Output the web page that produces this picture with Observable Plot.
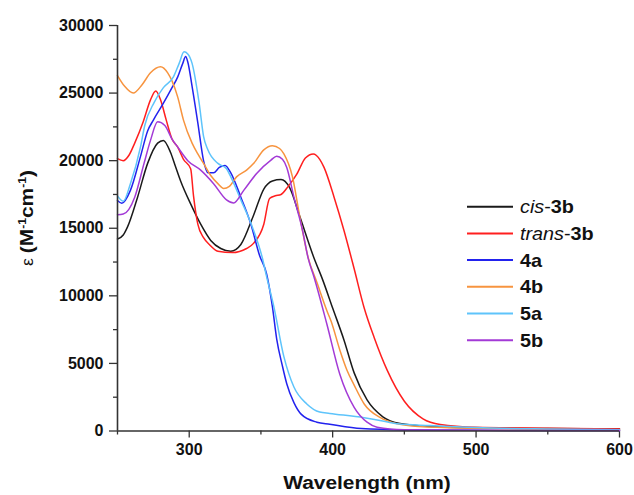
<!DOCTYPE html>
<html>
<head>
<meta charset="utf-8">
<script src="https://cdn.jsdelivr.net/npm/d3@7"></script>
<script src="https://cdn.jsdelivr.net/npm/@observablehq/plot@0.6"></script>
<style>
  html, body { margin: 0; padding: 0; background: #fff; }
  #chart { width: 634px; height: 495px; }
</style>
</head>
<body>
<div id="chart"></div>
<script>
// ---- Data ----
const seriesNames = ["cis-3b", "trans-3b", "4a", "4b", "5a", "5b"];
const seriesColors = ["#1a1a1a", "#ff1f1f", "#2222ee", "#f7943f", "#5ec4fb", "#a33ad6"];

const cis3b_nm  = [250, 254, 257, 264, 271, 278, 282, 287, 290, 294, 301, 308, 315, 322, 329, 336, 345, 352, 358, 364, 370, 377, 387, 393, 400, 408, 415, 424, 435, 447, 468, 500, 550, 600];
const cis3b_eps = [14200, 14500, 15100, 17300, 19800, 21300, 21500, 20600, 19700, 18500, 16800, 15300, 14100, 13500, 13300, 13800, 16000, 17900, 18500, 18600, 18000, 15900, 12800, 11200, 9100, 6700, 4300, 2300, 1050, 550, 330, 230, 180, 150];

const trans3b_nm  = [250, 254, 258, 262, 268, 273, 276.7, 280, 284, 288, 292, 296, 301, 303, 306, 310, 314, 320, 330, 340, 345, 352, 356, 360, 364, 369, 375, 381, 386.5, 391, 394, 401, 408, 415, 422, 429, 438, 450, 463, 475, 500, 550, 600];
const trans3b_eps = [20150, 20000, 20400, 21300, 22900, 24500, 25150, 24500, 23000, 21600, 21000, 20100, 19400, 17400, 15300, 14300, 13800, 13300, 13200, 13500, 13900, 15300, 17200, 17400, 17500, 18100, 19000, 20200, 20500, 20100, 19500, 17300, 14800, 12000, 9100, 6900, 4500, 2200, 900, 480, 270, 200, 150];

const a4_nm  = [250, 253, 259, 266, 271, 275, 282, 288, 292, 295.5, 297.5, 299, 302, 306, 310, 313, 317, 321, 325, 329, 336, 343, 349, 354, 358, 361, 365, 368, 373, 378, 389, 398, 420, 450, 500, 600];
const a4_eps = [17050, 16850, 17800, 20300, 22200, 23000, 24250, 25400, 26200, 27200, 27700, 27300, 25500, 22800, 20000, 19100, 19100, 19500, 19650, 19100, 17300, 15300, 13000, 11600, 9200, 6800, 4800, 3500, 2100, 1250, 650, 500, 180, 80, 50, 30];

const b4_nm  = [250, 255, 261, 267, 273, 280, 285, 288, 292, 296, 302, 306, 310, 315, 320, 324, 328, 333, 340, 345, 352, 358, 363, 366, 372, 377, 383, 389, 396, 399, 405, 410, 415, 422, 433, 445, 460, 500, 550, 600];
const b4_eps = [26300, 25500, 25000, 25600, 26500, 26950, 26500, 25900, 24700, 23000, 21300, 20500, 19800, 18900, 18300, 17950, 18100, 18800, 19300, 19800, 20800, 21100, 20900, 20500, 18800, 15900, 12800, 11000, 8900, 8100, 6000, 4500, 3400, 2000, 1000, 530, 330, 200, 120, 80];

const a5_nm  = [250, 254, 259, 266, 269, 275.5, 282, 289, 293, 296.4, 299, 302, 307, 310, 313, 320, 326, 329, 336, 344, 351, 354, 359, 366, 373, 382, 391, 398, 422, 433, 445, 468, 500, 550, 600];
const a5_eps = [17400, 17000, 18300, 21000, 22600, 24300, 25400, 26200, 27200, 28050, 27900, 27200, 24200, 21800, 20800, 19800, 19400, 18800, 17100, 15100, 12800, 11400, 9200, 5500, 3250, 2000, 1400, 1300, 980, 780, 530, 400, 250, 150, 100];

const b5_nm  = [250, 254, 262, 268.5, 273, 278, 283, 288, 292, 299, 308, 317, 326, 331, 338, 347, 357, 361, 365, 368, 373, 379, 383, 387, 396, 405, 415, 424, 431, 450, 500, 600];
const b5_eps = [16000, 16050, 17300, 19800, 21500, 22870, 22600, 21600, 21000, 20000, 19300, 18300, 17100, 16870, 17800, 19050, 20040, 20330, 20100, 19500, 17300, 14850, 12750, 11400, 7900, 4200, 1750, 650, 280, 100, 50, 30];

const xTicksMajor = [300, 400, 500, 600];
const xTicksMinor = [250, 350, 450, 550];
const yTicksMajor = [0, 5000, 10000, 15000, 20000, 25000, 30000];
const yTicksMinor = [2500, 7500, 12500, 17500, 22500, 27500];

// ---- Build table ----
const seriesArrays = [
  [cis3b_nm, cis3b_eps], [trans3b_nm, trans3b_eps], [a4_nm, a4_eps],
  [b4_nm, b4_eps], [a5_nm, a5_eps], [b5_nm, b5_eps]
];
const data = [];
seriesArrays.forEach(([xs, ys], i) => {
  xs.forEach((x, j) => data.push({series: seriesNames[i], nm: x, eps: ys[j]}));
});

const font = "'Liberation Sans', Arial, sans-serif";
const axisColor = "#333";

const plot = Plot.plot({
  width: 634,
  height: 495,
  marginLeft: 117,
  marginRight: 15,
  marginTop: 25,
  marginBottom: 64.5,
  style: {fontFamily: font, color: "#111", background: "#fff", overflow: "visible"},
  x: {domain: [250, 600]},
  y: {domain: [0, 30000]},
  color: {domain: seriesNames, range: seriesColors},
  marks: [
    Plot.axisX({ticks: xTicksMajor, tickSize: 7, tickPadding: 6, fontSize: 16, fontWeight: "bold", stroke: axisColor, strokeWidth: 1.3, label: null, tickFormat: d => String(d)}),
    Plot.axisX({ticks: xTicksMinor, tickSize: 4, text: null, stroke: axisColor, strokeWidth: 1.3, label: null}),
    Plot.axisY({ticks: yTicksMajor, tickSize: 8, tickPadding: 6, fontSize: 16, fontWeight: "bold", stroke: axisColor, strokeWidth: 1.3, label: null, tickFormat: d => String(d)}),
    Plot.axisY({ticks: yTicksMinor, tickSize: 4, text: null, stroke: axisColor, strokeWidth: 1.3, label: null}),
    Plot.line(data, {x: "nm", y: "eps", z: "series", stroke: "series", strokeWidth: 1.5, curve: "monotone-x"}),
    Plot.ruleX([250], {stroke: axisColor, strokeWidth: 1.6}),
    Plot.ruleY([0], {stroke: axisColor, strokeWidth: 1.6})
  ]
});

document.getElementById("chart").appendChild(plot);

// ---- Axis titles ----
const svg = d3.select(plot);
svg.append("text")
  .attr("transform", "translate(367,489) scale(1.1,1)")
  .attr("text-anchor", "middle")
  .attr("font-family", font).attr("font-size", 19).attr("font-weight", "bold").attr("fill", "#111")
  .text("Wavelength (nm)");

const yt = svg.append("text")
  .attr("transform", "translate(33,218) rotate(-90) scale(1.1,1)")
  .attr("text-anchor", "middle")
  .attr("font-family", font).attr("font-size", 19).attr("font-weight", "bold").attr("fill", "#111");
yt.append("tspan").attr("font-weight", "normal").attr("font-size", 16).text("ε ");
yt.append("tspan").text("(M");
yt.append("tspan").attr("font-size", 11).attr("dy", -7).text("-1");
yt.append("tspan").attr("dy", 7).text("cm");
yt.append("tspan").attr("font-size", 11).attr("dy", -7).text("-1");
yt.append("tspan").attr("dy", 7).text(")");

// ---- Legend ----
const legendItems = [
  {ital: "cis", rest: "3b"}, {ital: "trans", rest: "3b"},
  {ital: null, rest: "4a"}, {ital: null, rest: "4b"},
  {ital: null, rest: "5a"}, {ital: null, rest: "5b"}
];
const lg = svg.append("g").attr("text-anchor", "start");
legendItems.forEach((it, i) => {
  const cy = 206.7 + i * 26.7;
  lg.append("line").attr("x1", 467).attr("x2", 513).attr("y1", cy).attr("y2", cy)
    .attr("stroke", seriesColors[i]).attr("stroke-width", 2);
  const t = lg.append("text")
    .attr("transform", `translate(520,${cy + 6.5}) scale(1.1,1)`)
    .attr("text-anchor", "start")
    .attr("font-family", font).attr("font-size", 18).attr("fill", "#111");
  if (it.ital) {
    t.append("tspan").attr("font-style", "italic").text(it.ital);
    t.append("tspan").text("-");
  }
  t.append("tspan").attr("font-weight", "bold").text(it.rest);
});
</script>
</body>
</html>
